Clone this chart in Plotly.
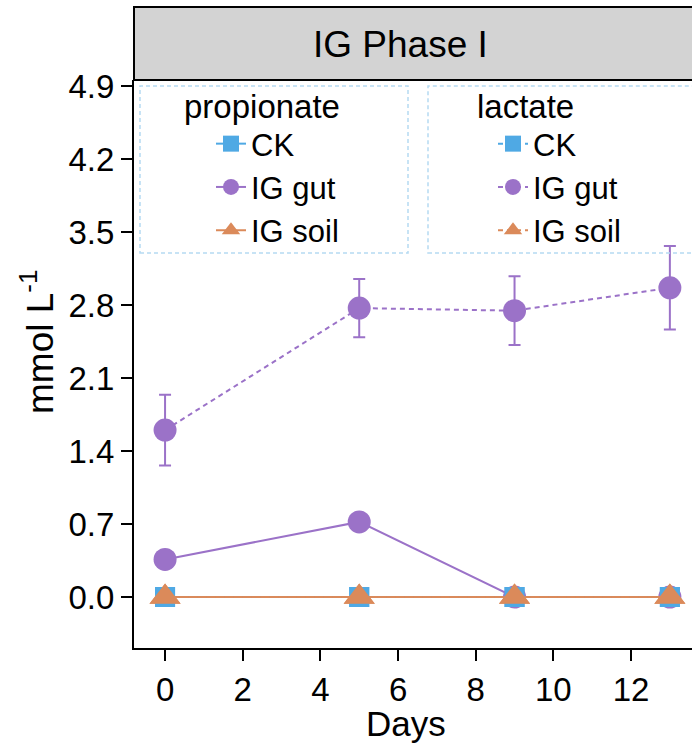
import plotly.graph_objects as go

days = [0, 5, 9, 13]
treatments = ["CK", "IG gut", "IG soil"]

propionate_ck = [0.0, 0.0, 0.0, 0.0]
propionate_gut = [0.36, 0.72, 0.0, 0.0]
propionate_soil = [0.0, 0.0, 0.0, 0.0]

lactate_ck = [0.0, 0.0, 0.0, 0.0]
lactate_gut = [1.60, 2.77, 2.745, 2.965]
lactate_gut_err = [0.34, 0.28, 0.33, 0.40]
lactate_soil = [0.0, 0.0, 0.0, 0.0]

y_ticks = [0.0, 0.7, 1.4, 2.1, 2.8, 3.5, 4.2, 4.9]
x_ticks = [0, 2, 4, 6, 8, 10, 12]

BLUE = "#4FA9E4"
PURPLE = "#9B72C8"
ORANGE = "#DB8A5A"
colors = [BLUE, PURPLE, ORANGE]
symbols = ["square", "circle", "triangle-up"]
sizes = [20, 23, 27]
FONT = "Liberation Sans, Arial, sans-serif"

fig = go.Figure()

prop_series = [propionate_ck, propionate_gut, propionate_soil]
lac_series = [lactate_ck, lactate_gut, lactate_soil]
lac_errs = [None, lactate_gut_err, None]

for name, ys, c, s, sz in zip(treatments, prop_series, colors, symbols, sizes):
    fig.add_trace(go.Scatter(
        x=days, y=ys, name=name, mode="lines+markers",
        line=dict(color=c, width=2),
        marker=dict(color=c, symbol=s, size=sz, line=dict(width=0)),
        legend="legend", cliponaxis=False,
    ))

for name, ys, err, c, s, sz in zip(treatments, lac_series, lac_errs, colors, symbols, sizes):
    kw = {}
    if err is not None:
        kw["error_y"] = dict(type="data", array=err, visible=True,
                             color=c, thickness=2, width=6)
    fig.add_trace(go.Scatter(
        x=days, y=ys, name=name, mode="lines+markers",
        line=dict(color=c, width=2, dash="5px,4px"),
        marker=dict(color=c, symbol=s, size=sz, line=dict(width=0)),
        legend="legend2", cliponaxis=False, **kw,
    ))

W, H = 692, 746
ml, mr, mt, mb = 134, 0, 80, 98
pw, ph = W - ml - mr, H - mt - mb

def px(xp):
    return (xp - ml) / pw

def py(yp):
    return (H - mb - yp) / ph

shapes = [
    # strip
    dict(type="rect", xref="paper", yref="paper", x0=0, x1=1.05,
         y0=1, y1=py(7), fillcolor="#D3D3D3",
         line=dict(color="black", width=2), layer="above"),
    # legend boxes (dashed)
    dict(type="rect", xref="paper", yref="paper", x0=px(140), x1=px(408),
         y0=py(253), y1=py(86), line=dict(color="#B5DAF2", width=1.5, dash="4px,3px")),
    dict(type="rect", xref="paper", yref="paper", x0=px(428), x1=1.05,
         y0=py(253), y1=py(86), line=dict(color="#B5DAF2", width=1.5, dash="4px,3px")),
]

annotations = [
    dict(text="IG Phase I", xref="paper", yref="paper", x=px(400), y=py(44),
         xanchor="center", yanchor="middle", showarrow=False,
         font=dict(size=37, color="black", family=FONT)),
    dict(text="Days", xref="paper", yref="paper", x=px(406), y=py(723),
         xanchor="center", yanchor="middle", showarrow=False,
         font=dict(size=35, color="black", family=FONT)),
    dict(text="mmol L<sup>-1</sup>", xref="paper", yref="paper", x=px(37), y=py(342),
         xanchor="center", yanchor="middle", showarrow=False, textangle=-90,
         font=dict(size=37, color="black", family=FONT)),
    dict(text="propionate", xref="paper", yref="paper", x=px(262), y=py(106),
         xanchor="center", yanchor="middle", showarrow=False,
         font=dict(size=33, color="black", family=FONT)),
    dict(text="lactate", xref="paper", yref="paper", x=px(525), y=py(106),
         xanchor="center", yanchor="middle", showarrow=False,
         font=dict(size=33, color="black", family=FONT)),
]

legend_common = dict(
    bgcolor="rgba(0,0,0,0)", borderwidth=0,
    font=dict(size=31, color="black", family=FONT),
    xanchor="left", yanchor="top", itemsizing="trace",
    tracegroupgap=0,
)

fig.update_layout(
    width=W, height=H,
    margin=dict(l=ml, r=mr, t=mt, b=mb, pad=0),
    plot_bgcolor="white", paper_bgcolor="white",
    font=dict(family=FONT, color="black"),
    showlegend=True,
    legend=dict(x=px(211), y=py(117), **legend_common),
    legend2=dict(x=px(493), y=py(117), **legend_common),
    xaxis=dict(range=[-0.8, 13.57], tickvals=x_ticks, ticktext=[str(v) for v in x_ticks],
               showgrid=False, zeroline=False, showline=True, linecolor="black",
               linewidth=2, ticks="outside", ticklen=11, tickwidth=2, tickcolor="black",
               tickfont=dict(size=33, family=FONT)),
    yaxis=dict(range=[-0.489, 4.957], tickvals=y_ticks,
               ticktext=[f"{v:.1f}" for v in y_ticks],
               showgrid=False, zeroline=False, showline=True, linecolor="black",
               linewidth=2, ticks="outside", ticklen=11, tickwidth=2, tickcolor="black",
               tickfont=dict(size=33, family=FONT)),
    shapes=shapes,
    annotations=annotations,
)

fig.write_html("out.html")
